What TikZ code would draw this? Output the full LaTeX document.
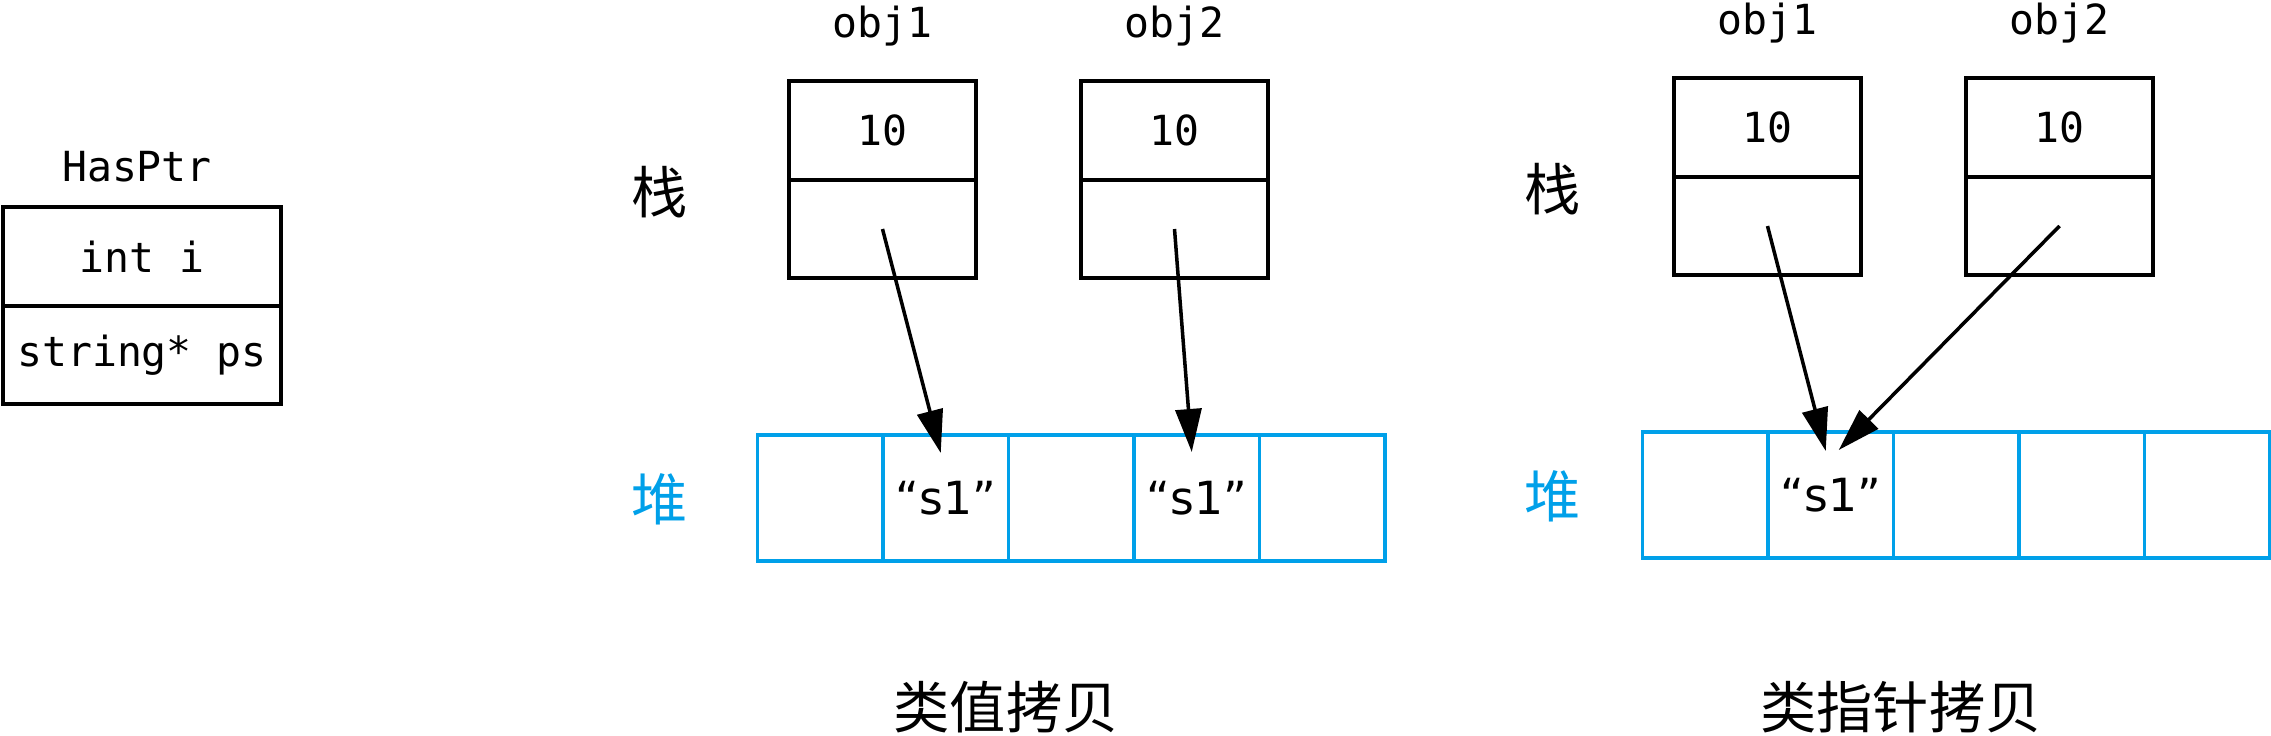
\documentclass[tikz,border=0pt]{standalone}
\usepackage{fontspec}
\setmonofont{DejaVu Sans Mono}
\newfontfamily\cjkfont{Noto Sans CJK SC}
\newfontfamily\strfont{DejaVu Sans}
\usetikzlibrary{arrows.meta,positioning}
\definecolor{heapblue}{RGB}{0,160,233}

\begin{document}
\begin{tikzpicture}[
    code/.style={font=\ttfamily\fontsize{11.8}{14}\selectfont},
    objcell/.style={draw, line width=1pt, outer sep=0pt, inner sep=0pt, minimum width=1.87cm, minimum height=0.985cm, code},
    heapcell/.style={draw=heapblue, line width=1pt, outer sep=0pt, inner sep=0pt, minimum width=1.255cm, minimum height=1.26cm},
    strtext/.style={font=\strfont\fontsize{13}{15}\selectfont},
    hanzi/.style={font=\cjkfont\fontsize{16}{16}\selectfont},
    ptr/.style={line width=1pt, -{Triangle[length=4.3mm, width=2.6mm]}}
]
\useasboundingbox (0,0) rectangle (22.71,7.35);

% The class itself
\node[code] (hp-name) at (1.37,5.68) {HasPtr};
\node[objcell, minimum width=2.78cm] (hp-i) at (1.42,4.785) {int i};
\node[objcell, minimum width=2.78cm, below=0pt of hp-i] (hp-ps) {string* ps};

% Both copies share the same stack / heap layout
% v = value-like copy, p = pointer-like copy
\foreach \s/\dx/\dy/\lx in {v/0/0/6.595, p/8.85/0.03/15.53}{
    % Stack and heap labels
    \node[hanzi] (\s-stack) at (\lx,5.425+\dy) {栈};
    \node[hanzi, text=heapblue] (\s-heap) at (\lx,2.36+\dy) {堆};

    % The two objects on the stack
    \foreach \o/\x in {1/8.825, 2/11.745}{
        \node[code] (\s-o\o-name) at (\x+\dx,7.085+\dy) {obj\o};
        \node[objcell] (\s-o\o-top) at (\x+\dx,6.045+\dy) {10};
        \node[objcell, below=0pt of \s-o\o-top] (\s-o\o-bot) {};
    }

    % Five cells on the heap
    \foreach \i in {1,...,5}
        \node[heapcell] (\s-h\i) at (7.575+1.255*\i-0.6275+\dx,2.37+\dy) {};
}

% Strings on the heap
\node[strtext] (v-str1) at (v-h2) {“s1”};
\node[strtext] (v-str2) at (v-h4) {“s1”};
\node[strtext] (p-str1) at (p-h2) {“s1”};

% Pointer ends, a little below the top of the cell
\coordinate (v-tip1) at ([shift={(-0.05,-0.18)}]v-h2.north);
\coordinate (v-tip2) at ([shift={(-0.05,-0.17)}]v-h4.north);
\coordinate (p-tip1) at ([shift={(-0.05,-0.19)}]p-h2.north);
\coordinate (p-tip2) at ([shift={(0.08,-0.18)}]p-h2.north);

% Pointers
\draw[ptr] (v-o1-bot.center) -- (v-tip1);
\draw[ptr] (v-o2-bot.center) -- (v-tip2);
\draw[ptr] (p-o1-bot.center) -- (p-tip1);
\draw[ptr] (p-o2-bot.center) -- (p-tip2);

% Captions
\node[hanzi] (v-caption) at (10.06,0.275) {类值拷贝};
\node[hanzi] (p-caption) at (19.01,0.275) {类指针拷贝};
\end{tikzpicture}
\end{document}
